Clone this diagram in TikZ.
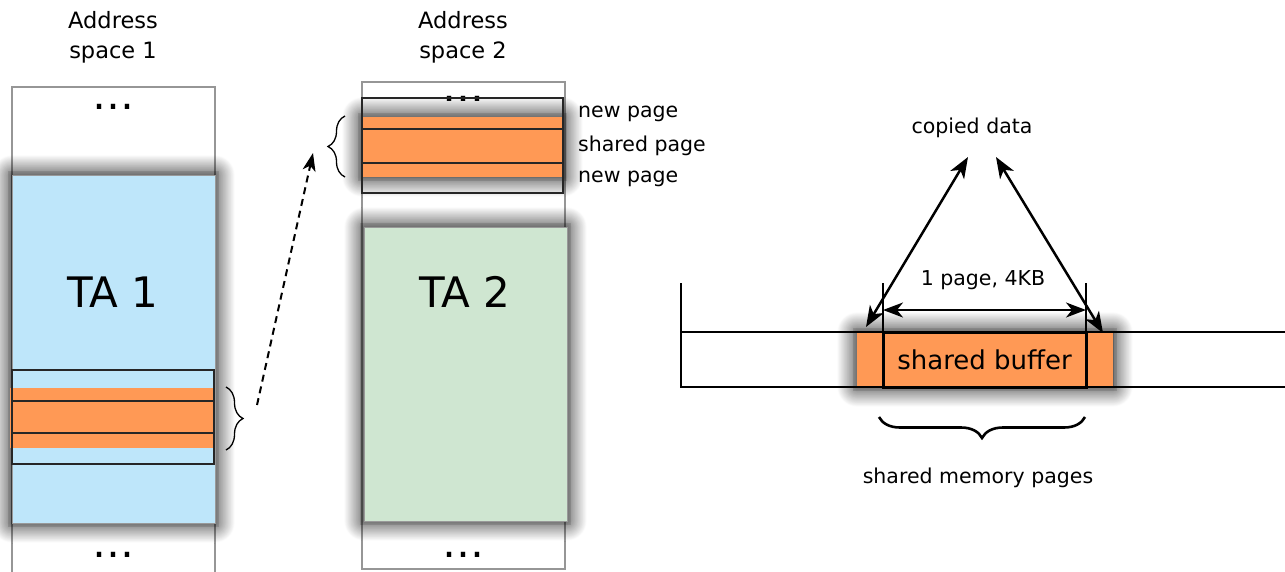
\documentclass[tikz,border=0pt]{standalone}
\usepackage{fontspec}
\setmainfont{DejaVu Sans}
\usetikzlibrary{arrows.meta,decorations.pathreplacing,shadows.blur}

\definecolor{pageorange}{RGB}{255,153,85}
\definecolor{taone}{RGB}{190,230,250}
\definecolor{tatwo}{RGB}{207,230,209}
\definecolor{colgray}{RGB}{150,150,150}

\tikzset{
  % soft drop shadow, centred under the shape
  softshadow/.style={blur shadow={shadow xshift=0pt, shadow yshift=0pt,
      shadow blur radius=20pt, shadow opacity=100, shadow blur steps=30},
      preaction={draw=black, draw opacity=0.12, line width=8pt}},
  column/.style={draw=colgray, line width=1.3pt, inner sep=0pt, outer sep=0pt, anchor=north west},
  tabox/.style={softshadow, draw=black!40, line width=1pt, inner sep=0pt, outer sep=0pt, anchor=north west},
  orangeband/.style={softshadow, fill=pageorange, inner sep=0pt, outer sep=0pt, anchor=north west},
  pageframe/.style={draw=black!85, line width=1.3pt, inner sep=0pt, outer sep=0pt, anchor=north west},
  divider/.style={draw=black!85, line width=2pt},
  barbox/.style={draw=black, line width=2pt, inner sep=0pt, outer sep=0pt, anchor=north west},
  bufbox/.style={draw=black, line width=3pt, inner sep=0pt, outer sep=0pt, anchor=north west,
      font=\fontsize{26}{30}\selectfont},
  headtext/.style={font=\fontsize{22.5}{30}\selectfont, align=center, inner sep=0pt},
  smalltext/.style={font=\fontsize{20.5}{24}\selectfont, inner sep=0pt},
  bigtext/.style={font=\fontsize{42}{50}\selectfont, inner sep=0pt},
  dotstext/.style={font=\fontsize{42}{48}\selectfont, inner sep=0pt, anchor=base},
  pagebrace/.style={draw=black, line width=1.3pt, decorate, decoration={brace, amplitude=17pt}},
  bigbrace/.style={draw=black, line width=2.6pt, decorate, decoration={brace, amplitude=21pt}},
  tick/.style={draw=black, line width=1.2pt},
  dimarrow/.style={draw=black, line width=2pt, {Stealth[length=20pt, width=15pt, inset=6pt]}-{Stealth[length=20pt, width=15pt, inset=6pt]}},
  copyline/.style={draw=black, line width=2.5pt, {Stealth[length=21pt, width=16pt, inset=6pt]}-{Stealth[length=21pt, width=16pt, inset=6pt]}},
  remaparrow/.style={draw=black, line width=2pt, dash pattern=on 7pt off 5pt, -{Stealth[length=18pt, width=13pt, inset=5pt]}},
}

\begin{document}
\begin{tikzpicture}[x=1pt,y=-1pt]
\useasboundingbox (0,0) rectangle (1285,571);
\clip (0,0) rectangle (1285,571);

% ---------- address space 1 ----------
\node[headtext, anchor=north] (as1title) at (113,11) {Address\\space 1};
\node[column, minimum width=203pt, minimum height=500pt] (col1) at (12,87) {};
\node[dotstext] (dots1top) at (113,109) {…};
\node[dotstext] (dots1bot) at (113,557) {…};
\node[tabox, fill=taone, minimum width=203pt, minimum height=348pt] (ta1) at (12,175) {};
\node[bigtext] (ta1label) at (113,292) {TA 1};
\fill[pageorange] (10,388) rectangle (213,448);
\node[pageframe, minimum width=202pt, minimum height=94pt] (pages1) at (12,370) {};
\draw[divider] (12,401) -- (214,401);
\draw[divider] (12,433) -- (214,433);
\draw[pagebrace] (226,387) -- (226,450);

% ---------- address space 2 ----------
\node[headtext, anchor=north] (as2title) at (463,11) {Address\\space 2};
\node[column, minimum width=203pt, minimum height=487pt] (col2) at (362,82) {};
\node[orangeband, minimum width=201pt, minimum height=60pt] (band2) at (362,117) {};
\node[dotstext] (dots2top) at (463,101) {…};
\node[pageframe, minimum width=201pt, minimum height=95pt] (pages2) at (362,98) {};
\draw[divider, line width=1.5pt] (362,129) -- (563,129);
\draw[divider, line width=1.5pt] (362,163) -- (563,163);
\draw[pagebrace] (345,177) -- (345,116);
\node[smalltext, anchor=base west] (newtop) at (578,117) {new page};
\node[smalltext, anchor=base west] (sharedlbl) at (578,151) {shared page};
\node[smalltext, anchor=base west] (newbot) at (578,182) {new page};
\node[tabox, fill=tatwo, minimum width=203pt, minimum height=294pt] (ta2) at (364,227) {};
\node[bigtext] (ta2label) at (465,292) {TA 2};
\node[dotstext] (dots2bot) at (463,557) {…};

% remapping of the shared page
\coordinate (remapfrom) at (257,405);
\coordinate (remapto) at (313,153);
\draw[remaparrow] (remapfrom) -- (remapto);

% ---------- shared buffer ----------
\node[smalltext, anchor=base] (copied) at (972,133) {copied data};
\node[orangeband, minimum width=256pt, minimum height=55pt] (pad) at (857,332) {};
\node[barbox, minimum width=620pt, minimum height=55pt] (bar) at (681,332) {};
\node[bufbox, minimum width=203pt, minimum height=55pt] (buffer) at (883,332) {shared buffer};

\coordinate (tickbar) at (681,283);
\coordinate (tickleft) at (883,283);
\coordinate (tickright) at (1086,283);
\draw[tick] (tickbar) -- (bar.north west);
\draw[tick] (tickleft) -- (buffer.north west);
\draw[tick] (tickright) -- (buffer.north east);

\coordinate (dimleft) at (883,310);
\coordinate (dimright) at (1086,310);
\draw[dimarrow] (dimleft) -- (dimright);
\node[smalltext, anchor=base] (pagesize) at (983,285) {1 page, 4KB};

\coordinate (copyleft) at (968,157);
\coordinate (copyright) at (996,157);
\coordinate (padleft) at (866,327);
\coordinate (padright) at (1103,333);
\draw[copyline] (copyleft) -- (padleft);
\draw[copyline] (copyright) -- (padright);

\draw[bigbrace] (1085,417) -- (879,417);
\node[smalltext, anchor=base] (memlbl) at (978,483) {shared memory pages};
\end{tikzpicture}
\end{document}
